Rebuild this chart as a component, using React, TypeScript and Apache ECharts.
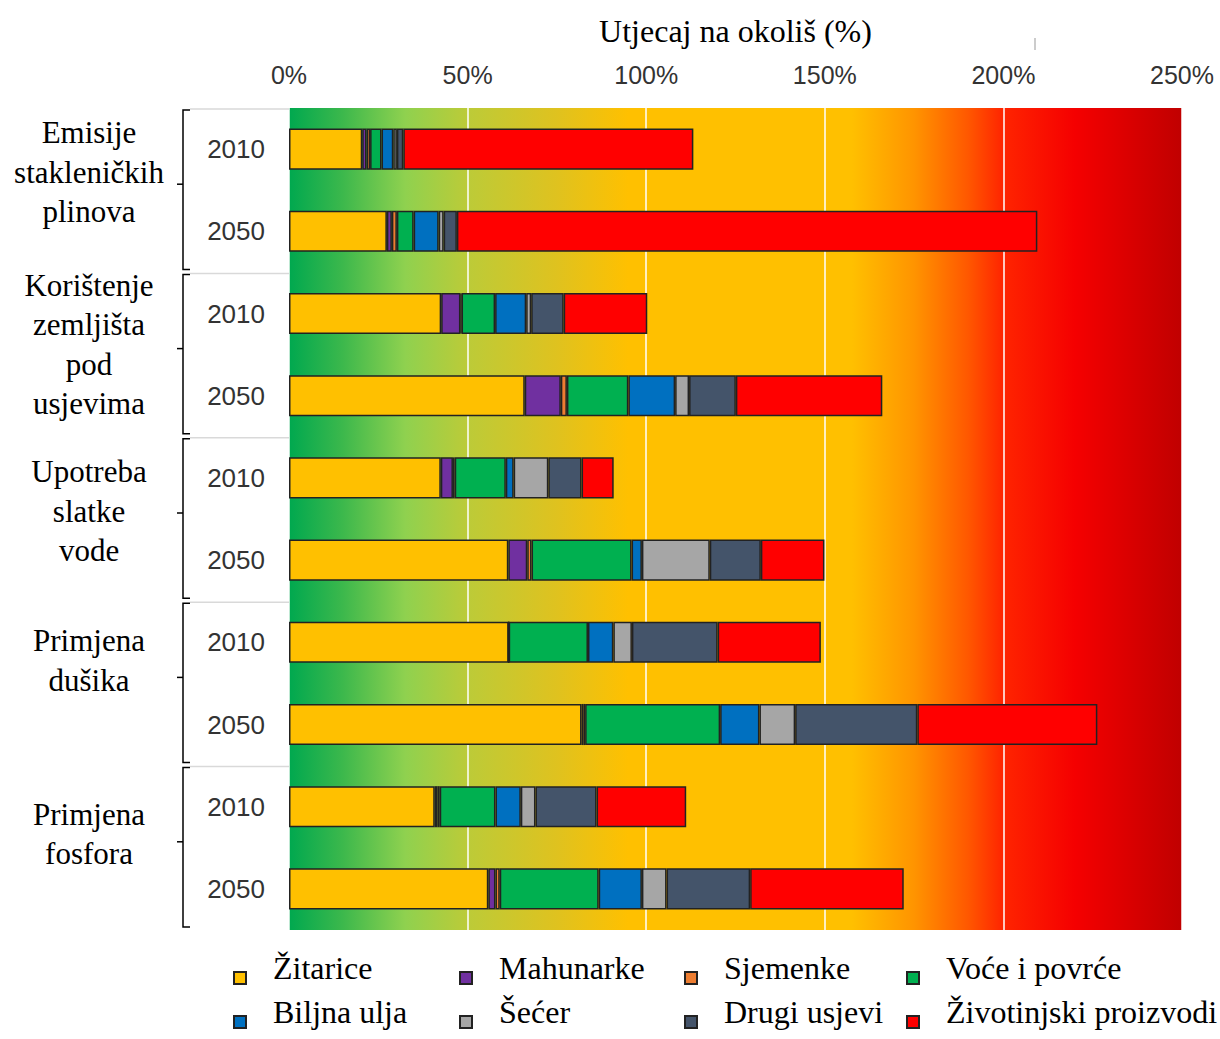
import React, { useEffect, useRef } from "react";
import * as echarts from "echarts";

const rowLabels = ["2010", "2050", "2010", "2050", "2010", "2050", "2010", "2050", "2010", "2050"];
const groupNames = [
  "Emisije\nstakleničkih\nplinova",
  "Korištenje\nzemljišta\npod\nusjevima",
  "Upotreba\nslatke\nvode",
  "Primjena\ndušika",
  "Primjena\nfosfora",
];
const xTicks = [0, 50, 100, 150, 200, 250];

const seriesNames = [
  "Žitarice",
  "Mahunarke",
  "Sjemenke",
  "Voće i povrće",
  "Biljna ulja",
  "Šećer",
  "Drugi usjevi",
  "Životinjski proizvodi",
];
const zitarice = [20.5, 27.4, 42.6, 66.0, 42.5, 61.4, 61.5, 81.9, 40.8, 55.8];
const mahunarke = [1.2, 1.4, 5.4, 10.1, 3.4, 5.3, 0, 0.5, 0.8, 2.0];
const sjemenke = [1.0, 1.4, 0.3, 1.7, 0.5, 1.2, 0, 0.5, 0.6, 1.2];
const voce = [3.2, 4.7, 9.4, 17.2, 14.3, 28.0, 22.2, 37.8, 15.6, 27.7];
const biljnaUlja = [3.3, 7.0, 8.7, 13.1, 2.2, 2.9, 7.1, 11.0, 7.1, 12.1];
const secer = [1.0, 1.4, 1.4, 3.9, 9.7, 19.0, 5.2, 10.0, 4.1, 6.9];
const drugi = [1.8, 3.7, 9.1, 13.1, 9.3, 14.3, 24.0, 34.2, 17.1, 23.4];
const zivotinjski = [81.2, 162.5, 23.4, 41.0, 9.0, 17.8, 28.9, 50.4, 25.1, 43.0];
const seriesValues = [zitarice, mahunarke, sjemenke, voce, biljnaUlja, secer, drugi, zivotinjski];
const seriesColors = ["#FFC000", "#7030A0", "#ED7D31", "#00B050", "#0070C0", "#A6A6A6", "#44546A", "#FF0000"];

// layout
const W = 1220;
const H = 1039;
const GRID_LEFT = 289;
const GRID_RIGHT_X = 1182;
const GRID_TOP = 108;
const GRID_BOTTOM_Y = 930;
const groupLabelOffsets = [-18, -10, -8, -23, -14];
const legendLeft = [233, 459, 684, 906];
const legendTop = [952, 996];

export default function App() {
  const ref = useRef<HTMLDivElement>(null);
  useEffect(() => {
    if (!ref.current) return;
    const chart = echarts.init(ref.current, null, { renderer: "svg" });

    const groupH = (GRID_BOTTOM_Y - GRID_TOP) / groupNames.length;
    const graphics: any[] = [];
    groupNames.forEach((name, i) => {
      const top = GRID_TOP + i * groupH;
      const bottom = top + groupH;
      const mid = (top + bottom) / 2;
      graphics.push({
        type: "line",
        shape: { x1: 190, y1: top + 1, x2: GRID_LEFT, y2: top + 1 },
        style: { stroke: "#d9d9d9", lineWidth: 1.5 },
        z: 5,
      });
      graphics.push({
        type: "polyline",
        shape: {
          points: [
            [190, top + 2],
            [183, top + 2],
            [183, bottom - 3],
            [190, bottom - 3],
          ],
        },
        style: { stroke: "#000", lineWidth: 1.5, fill: null },
        z: 5,
      });
      graphics.push({
        type: "line",
        shape: { x1: 177, y1: mid - 6, x2: 183, y2: mid - 6 },
        style: { stroke: "#000", lineWidth: 1.5 },
        z: 5,
      });
      graphics.push({
        type: "text",
        x: 89,
        y: mid + groupLabelOffsets[i],
        style: {
          text: name,
          fontFamily: "Liberation Serif",
          fontSize: 31,
          lineHeight: 39.5,
          fill: "#000",
          align: "center",
          verticalAlign: "middle",
        },
        z: 5,
      });
    });
    graphics.push({
      type: "line",
      shape: { x1: 1035, y1: 38, x2: 1035, y2: 50 },
      style: { stroke: "#999", lineWidth: 1 },
    });

    const bg = new echarts.graphic.LinearGradient(0, 0, 1, 0, [
      { offset: 0, color: "#00a84f" },
      { offset: 0.06, color: "#3cb84c" },
      { offset: 0.13, color: "#8fd14f" },
      { offset: 0.2, color: "#bccb38" },
      { offset: 0.3, color: "#dfc21f" },
      { offset: 0.38, color: "#ffc000" },
      { offset: 0.63, color: "#ffc000" },
      { offset: 0.7, color: "#ff9400" },
      { offset: 0.76, color: "#ff5800" },
      { offset: 0.8, color: "#ff2400" },
      { offset: 0.88, color: "#f50000" },
      { offset: 1, color: "#c00000" },
    ]);

    const legends = seriesNames.map((n, i) => ({
      data: [n],
      left: legendLeft[i % 4],
      top: legendTop[Math.floor(i / 4)],
      padding: 0,
      icon: "rect",
      itemWidth: 12,
      itemHeight: 12,
      selectedMode: false,
      formatter: (name: string) => "{a|" + name + "}\n{b| }",
      textStyle: {
        padding: [0, 0, 0, 22],
        rich: {
          a: {
            fontFamily: "Liberation Serif",
            fontSize: 32,
            lineHeight: 32,
            color: "#000",
          },
          b: { fontSize: 10, lineHeight: 20 },
        },
      },
    }));

    chart.setOption({
      animation: false,
      backgroundColor: "#fff",
      grid: {
        left: GRID_LEFT,
        right: W - GRID_RIGHT_X,
        top: GRID_TOP,
        bottom: H - GRID_BOTTOM_Y,
        show: true,
        backgroundColor: bg,
        borderWidth: 0,
      },
      legend: legends,
      xAxis: {
        type: "value",
        position: "top",
        min: xTicks[0],
        max: xTicks[xTicks.length - 1],
        interval: xTicks[1] - xTicks[0],
        name: "Utjecaj na okoliš (%)",
        nameLocation: "middle",
        nameGap: 61,
        nameTextStyle: { fontFamily: "Liberation Serif", fontSize: 32, color: "#000" },
        axisLine: { show: false },
        axisTick: { show: false },
        axisLabel: {
          formatter: "{value}%",
          fontFamily: "Liberation Sans",
          fontSize: 25,
          color: "#333",
          margin: 21,
        },
        splitLine: { show: true, lineStyle: { color: "rgba(255,255,255,0.75)", width: 2 } },
      },
      yAxis: {
        type: "category",
        inverse: true,
        data: rowLabels,
        axisLine: { show: false },
        axisTick: { show: false },
        axisLabel: { fontFamily: "Liberation Sans", fontSize: 26, color: "#333", margin: 24 },
        splitLine: { show: false },
      },
      graphic: graphics,
      series: seriesNames.map((n, i) => ({
        name: n,
        type: "bar",
        stack: "total",
        barWidth: "50%",
        data: seriesValues[i],
        itemStyle: { color: seriesColors[i], borderColor: "#222", borderWidth: 1.5 },
        emphasis: { disabled: true },
      })),
    });
    return () => chart.dispose();
  }, []);
  return (
    <div
      ref={ref}
      style={{ position: "absolute", left: 0, top: 0, width: W, height: H }}
    />
  );
}
